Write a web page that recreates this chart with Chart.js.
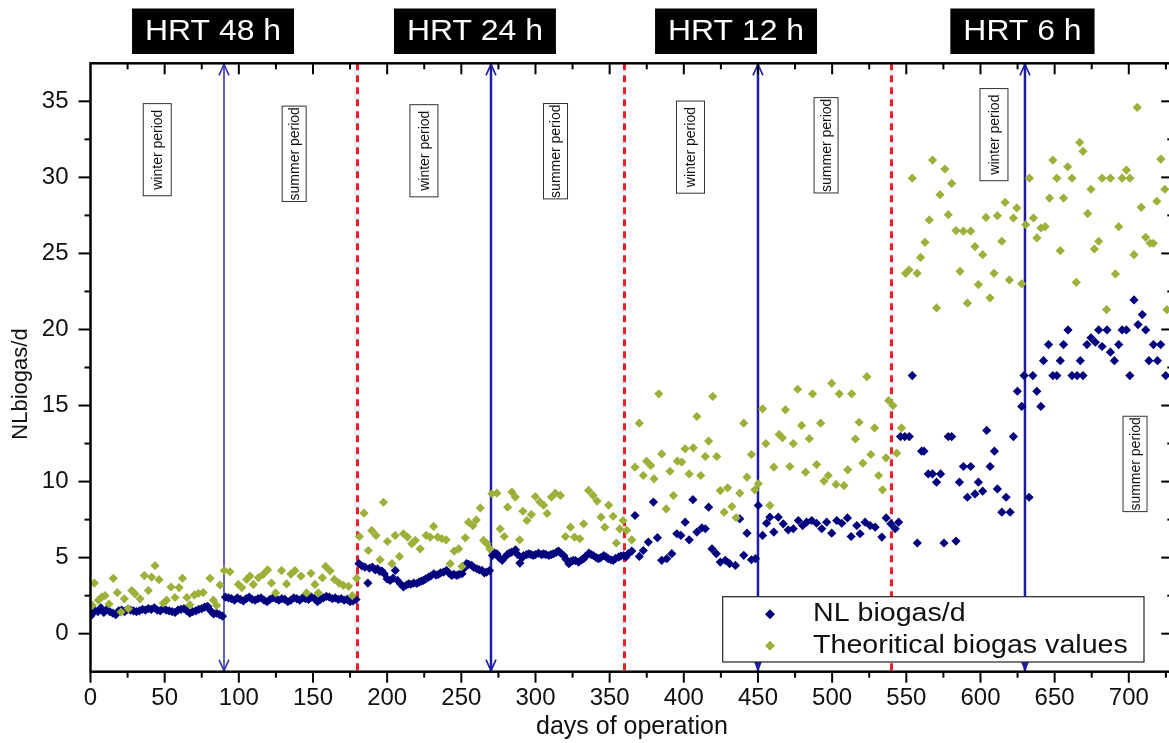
<!DOCTYPE html>
<html>
<head>
<meta charset="utf-8">
<script src="https://cdn.jsdelivr.net/npm/chart.js@4.4.0/dist/chart.umd.min.js"></script>
<style>
  html, body { margin: 0; padding: 0; background: #fff; overflow: hidden; }
  #wrap { position: relative; width: 1185px; height: 743px; }
</style>
</head>
<body>
<div id="wrap"><canvas id="chart-biogas" width="1185" height="743"></canvas></div>
<script>
// ── Données ───────────────────────────────────────────────────────────────────
// NL biogas/d (losanges bleu marine)
const nlDays = [
  0,1,3,5,7,9,11,13,15,17,19,21,23,25,27,29,31,33,35,37,39,41,43,45,47,49,51,53,55,57,59,61,63,65,67,69,71,73,75,77,79,81,83,85,87,89,
  91,93,95,97,99,101,103,105,107,109,111,113,115,117,119,121,123,125,127,129,131,133,135,137,139,141,143,145,147,149,151,153,155,157,159,161,163,165,167,169,171,173,175,177,179,
  181,183,185,187,188,190,192,193.5,195,196.5,198,200,202,204,205.5,207,209,211,213,214.5,216,218,220,221.5,223,224.5,226,228,229.5,231.5,233,234.5,236,238,240,241.5,243.5,245,247,248.5,250.5,252,253.5,255,257,258.5,260.5,262,264,265.5,267,269,
  271,272.5,274,275.5,277.5,279,281,282.5,284,286.5,288,289.5,291,292,294,295.5,297,298.5,300,302,304,305.5,307,309,310.5,312,314,315.5,317,319,320.5,322.5,324,325.5,327,329,331,332.5,334,336,337.5,339,341,342.5,344,346,347.5,349,351,352.5,354,356,357.5,359.5,
  361,362.6,364.9,367.1,370,372.7,376.1,379.5,382.2,385.1,388.5,391.9,395.3,398,400.9,403.6,406.1,408.8,412.2,414.5,416.7,419,421.9,424.6,428,430.9,434.8,437.7,440.4,442.6,445.6,448.3,450.2,
  453.1,455.8,458,460.7,463.7,467,470.4,473.8,477.2,480.1,482.8,486.2,489.5,493,496.3,499.7,503.1,506.5,510.3,512.8,516.6,518.8,522.2,525.6,529,533.5,536.4,539.6,542.5,544.8,
  546.1,549,552,554,557.4,560.3,561.9,564.8,567.7,570.4,573.1,575.4,578.3,580.6,583.5,585.8,588.5,591.2,593.4,596.3,598.6,601.5,604.2,606.5,609.4,611.4,614.4,617.3,620,622.2,624.9,627.8,629.4,
  632.8,635.3,638,640.7,642.5,645.9,648.8,651.5,653.8,656,659,661.7,665.1,667.3,669.1,671.8,674.5,677.5,679.7,682,685.3,687.6,690.3,693.2,695.5,698.4,700.7,703.5,706.2,709.1,711.4,713.6,716.6,719.3,721.5,724.9
];
const nlValues = [
  1.15,1.3,1.5,1.45,1.7,1.4,1.6,1.45,1.35,1.25,1.5,1.55,1.45,1.6,1.55,1.5,1.45,1.5,1.6,1.55,1.65,1.6,1.7,1.55,1.5,1.65,1.55,1.5,1.45,1.4,1.55,1.6,1.65,1.5,1.35,1.45,1.5,1.6,1.65,1.75,1.8,1.5,1.3,1.35,1.25,1.15,
  2.4,2.35,2.3,2.2,2.35,2.25,2.15,2.3,2.4,2.25,2.2,2.3,2.35,2.2,2.1,2.25,2.35,2.3,2.2,2.3,2.25,2.1,2.2,2.35,2.3,2.2,2.35,2.3,2.25,2.4,2.3,2.1,2.25,2.35,2.45,2.4,2.3,2.35,2.25,2.3,2.2,2.25,2.1,2.15,2.25,
  4.6,4.45,4.38,3.33,4.3,4.38,4.2,4.27,4.1,4.12,3.94,3.6,3.5,3.65,4.16,3.5,3.28,3.07,3.2,3.28,3.25,3.33,3.3,3.39,3.45,3.5,3.6,3.72,3.8,3.94,3.85,3.89,4.0,4.05,4.16,4.0,3.83,3.9,3.83,3.9,3.94,4.3,4.6,4.55,4.49,4.35,4.27,4.2,4.16,4.0,4.05,4.15,
  5.14,5.3,5.25,5.0,4.82,5.0,5.21,5.3,5.36,5.51,5.2,4.64,5.0,5.14,5.2,5.25,5.2,5.14,5.2,5.29,5.2,5.25,5.2,5.14,5.2,5.25,5.35,5.43,5.3,5.14,4.9,4.6,4.75,4.82,4.8,4.71,4.85,4.93,5.1,5.29,5.2,5.14,5.0,4.93,5.0,5.14,5.05,4.93,4.85,4.82,4.95,5.03,5.1,5.14,
  5.04,5.26,5.43,7.77,5.08,5.47,6.02,8.65,6.31,4.82,4.93,5.26,6.57,6.46,7.33,6.17,8.81,6.68,6.96,6.9,8.32,5.58,5.26,4.71,4.82,4.6,4.49,7.55,5.15,6.61,4.86,4.93,8.43,
  6.46,7.26,7.66,6.68,7.66,7.22,6.83,6.9,7.44,7.11,7.33,7.44,7.26,6.9,7.33,6.61,7.44,7.26,7.61,6.39,7.11,6.57,7.33,7.11,7.0,6.35,7.61,7.22,6.9,7.33,
  12.96,12.96,12.96,16.97,5.96,12.0,12.0,10.5,10.5,9.96,10.5,5.96,12.96,12.96,6.09,9.96,10.99,8.97,10.99,9.19,9.96,9.37,13.36,10.99,12.0,9.52,7.99,8.97,7.99,12.96,15.94,14.94,16.97,
  8.97,16.97,15.94,14.94,17.95,19.01,16.97,16.97,17.95,19.01,19.97,16.97,16.97,17.95,16.97,19.01,19.45,19.16,19.97,18.88,19.97,18.51,17.95,19.01,19.97,19.97,16.97,21.94,20.32,20.98,19.97,17.95,19.01,17.95,19.01,16.97
];

// Theoritical biogas values (losanges vert olive)
const thDays = [
  1.2,2.6,5.3,7.5,9.8,12.5,15.4,18.1,20.6,22.8,25.5,27.8,30,33.4,36.3,39,41.2,43.5,46.2,49,51.3,54.3,57,59.7,62,65,67,70,72.7,76,80.6,82.8,85,87.3,
  90.2,94,99.7,102,105.3,107.5,109.8,113.2,116.5,119.4,122,124.8,128.8,132.2,135.1,137.8,141.9,145.7,148.6,151.3,153.6,156.3,158.5,161.5,164.4,167.6,170.5,174,176.5,179.4,
  181.3,184.4,187.3,189.6,192.5,195.2,197.5,200.2,203.2,205.4,208.3,211,213.7,216.6,218.9,222.3,226.3,229,231.3,234,236.9,239.8,242.5,245.2,248.2,250.4,252.7,254.9,257.8,260.1,262.8,265,267.3,269.2,
  270.6,274,276.2,278.9,281.2,284.1,286.4,289.3,291.5,294.2,297.2,299.9,302.9,305.5,307.8,310.7,313.4,316.8,320.2,323.6,326.3,329.9,332.5,335.8,338.8,341.5,344.2,346.7,349.3,352.3,354.5,356.8,359,
  361.5,364.9,367.1,370,372.7,374.9,377.7,379.9,383.1,385.1,388.1,390.7,393,395.6,398.6,400.9,403.6,406.4,408.8,411.4,414.5,416.7,419.5,422.2,424.6,427.2,429.5,432.4,435.3,437.7,440.4,442.6,445.6,447.9,450.2,
  453.1,455.3,458,460.7,464.3,466.5,468.5,471.5,473.8,476.7,479.4,482.1,484.6,486.8,489.5,492.2,494.5,497.4,499.7,502.6,504.8,508,510.5,513.2,515.7,518.2,520.7,523.4,526.1,528.6,531.3,534,536.3,538.1,
  541,543.5,546.8,549.5,551.8,554,557.3,559.6,562.6,565.5,567.7,570.4,572.7,576,578.3,580.6,583.5,586.2,588.5,591.2,593.4,596.3,598.6,601.5,603.7,606.4,609.1,611.4,614.4,616.6,619.5,622.2,624.5,627.8,630.5,
  633,635.7,638,640.7,643.6,646.5,648.8,651.5,653.8,656,658.8,661.7,664.6,666.9,669.1,672.3,674.5,676.8,679.7,682,685,687.6,691,693.2,695.5,698.4,700.7,703.5,705.7,708.4,711.4,714.4,716.6,718.9,721.6,724.3,725.7
];
const thValues = [
  1.86,3.33,2.2,2.4,2.5,1.95,3.64,2.7,1.42,2.29,1.64,2.84,2.62,2.29,3.82,2.84,3.72,4.48,3.55,2.0,2.2,3.07,2.38,3.03,3.64,2.38,1.9,2.55,2.64,2.7,3.64,2.2,1.86,3.2,
  4.15,4.07,3.24,3.03,3.57,3.79,3.24,3.68,3.9,4.2,3.33,2.68,4.15,3.27,3.92,4.15,3.79,2.68,3.97,3.24,2.68,3.68,4.42,4.13,3.57,3.33,3.18,3.11,2.5,3.64,
  6.39,7.92,5.47,6.78,6.46,4.86,8.64,6.06,4.6,6.46,5.08,6.57,6.35,5.92,6.13,5.58,6.46,6.35,7.05,6.35,6.24,6.17,4.6,5.43,5.58,4.42,6.3,7.33,7.11,7.48,8.27,6.13,5.92,5.58,
  9.2,9.24,6.89,6.39,8.32,9.31,8.98,6.17,8.05,7.44,7.83,9.02,8.66,8.45,7.9,8.98,9.24,9.09,6.39,7.0,6.35,6.24,7.22,9.42,9.09,8.72,7.66,7.0,8.45,7.72,5.96,6.89,7.44,
  6.8,6.17,10.95,13.84,10.4,11.34,11.06,10.18,15.77,11.82,8.2,10.68,9.08,11.34,11.28,12.15,10.5,12.22,14.28,10.4,11.65,12.66,15.6,11.65,9.41,7.99,9.59,8.36,7.62,9.24,13.84,10.29,11.78,9.46,9.85,
  14.78,12.5,8.43,10.95,13.09,12.88,14.72,10.99,12.5,16.07,13.69,10.62,12.82,15.77,11.12,13.84,10.03,10.4,16.46,9.81,15.77,9.74,10.77,15.77,12.8,13.9,11.21,16.9,11.78,13.53,10.4,9.46,11.56,15.33,
  15.0,11.87,13.53,23.69,23.91,29.95,23.69,24.74,25.73,27.2,31.14,21.42,28.86,30.55,27.55,29.6,26.5,23.82,26.46,21.73,26.46,25.45,22.95,24.92,27.37,22.08,23.69,27.48,25.8,28.35,23.26,27.33,27.99,23.0,26.89,
  29.95,27.33,26.02,26.67,26.76,28.64,31.14,29.95,25.18,28.64,30.7,29.95,23.1,32.3,31.71,27.62,29.22,25.29,25.8,29.95,21.31,29.95,23.65,26.76,29.95,30.48,29.95,24.92,34.6,28.03,26.06,25.67,25.67,28.43,31.2,29.22,21.3
];

// ── Axes ──────────────────────────────────────────────────────────────────────
const xTickValues = [0, 50, 100, 150, 200, 250, 300, 350, 400, 450, 500, 550, 600, 650, 700];
const yTickValues = [0, 5, 10, 15, 20, 25, 30, 35];

// ── Annotations ──────────────────────────────────────────────────────────────
const hrtLabels  = ['HRT 48 h', 'HRT 24 h', 'HRT 12 h', 'HRT 6 h'];
const hrtCenters = [82.6, 259.2, 435.2, 628.3];
const arrowDays  = [90, 270, 450, 630];
const changeDays = [180, 360, 540];
const periodLabels = ['winter period', 'summer period', 'winter period', 'summer period',
                      'winter period', 'summer period', 'winter period', 'summer period'];
const periodDays   = [45, 137.3, 224.8, 313.5, 404.5, 495.9, 609.1, 704.2];
const periodLevels = [31.82, 31.55, 31.75, 31.72, 31.99, 32.11, 32.81, 11.16];

const FONT  = "'Liberation Sans', Arial, sans-serif";
const NAVY  = '#00007f';
const OLIVE = '#9bb13a';

function _line(ctx, x1, y1, x2, y2) {
  ctx.beginPath(); ctx.moveTo(x1, y1); ctx.lineTo(x2, y2); ctx.stroke();
}

// texte légèrement étiré horizontalement, comme sur la figure source
function _wideText(ctx, text, x, y, sx) {
  ctx.save();
  ctx.translate(x, y);
  ctx.scale(sx, 1);
  ctx.fillText(text, 0, 0);
  ctx.restore();
}

const decor = {
  id: 'decor',
  beforeDatasetsDraw(chart) {
    const { ctx, chartArea: a, scales: { x, y } } = chart;
    ctx.save();

    // changements de HRT : pointillés rouges
    ctx.strokeStyle = '#e8202a';
    ctx.lineWidth = 3;
    ctx.setLineDash([7, 5]);
    changeDays.forEach(d => {
      const px = x.getPixelForValue(d);
      _line(ctx, px, a.top, px, a.bottom);
    });
    ctx.setLineDash([]);

    // flèches bleues hiver / été
    arrowDays.forEach((d, i) => {
      const px = x.getPixelForValue(d);
      ctx.strokeStyle = i === 0 ? '#3838b4' : '#1c1ca6';
      ctx.fillStyle = ctx.strokeStyle;
      ctx.lineWidth = i === 0 ? 1.6 : 2.5;
      _line(ctx, px, a.top, px, a.bottom);
      ctx.lineWidth = 1.6;
      ctx.beginPath();
      ctx.moveTo(px - 5, a.top + 12); ctx.lineTo(px, a.top + 1); ctx.lineTo(px + 5, a.top + 12);
      ctx.stroke();
      if (i < 2) {
        ctx.beginPath();
        ctx.moveTo(px - 5, a.bottom - 12); ctx.lineTo(px, a.bottom - 1); ctx.lineTo(px + 5, a.bottom - 12);
        ctx.stroke();
      } else {
        ctx.beginPath();
        ctx.moveTo(px - 4, a.bottom - 10); ctx.lineTo(px, a.bottom); ctx.lineTo(px + 4, a.bottom - 10);
        ctx.closePath(); ctx.fill();
      }
    });

    // étiquettes "winter / summer period"
    ctx.font = `14px ${FONT}`;
    ctx.textAlign = 'center';
    ctx.textBaseline = 'middle';
    periodLabels.forEach((label, i) => {
      const px = x.getPixelForValue(periodDays[i]);
      const py = y.getPixelForValue(periodLevels[i]);
      const summer = label.startsWith('summer');
      const w = ctx.measureText(label).width + (summer ? 2 : 12);
      const h = summer ? 24 : 28;
      ctx.save();
      ctx.translate(px, py);
      ctx.rotate(-Math.PI / 2);
      ctx.fillStyle = '#fff';
      ctx.fillRect(-w / 2, -h / 2, w, h);
      ctx.strokeStyle = '#333';
      ctx.lineWidth = 1;
      ctx.strokeRect(-w / 2, -h / 2, w, h);
      ctx.fillStyle = '#111';
      ctx.fillText(label, 0, 1);
      ctx.restore();
    });
    ctx.restore();
  },

  afterDatasetsDraw(chart) {
    const { ctx, chartArea: a, scales: { x, y } } = chart;
    ctx.save();

    // cadre + graduations
    ctx.strokeStyle = '#000';
    ctx.lineWidth = 2.5;
    ctx.strokeRect(a.left, a.top, a.right - a.left, a.bottom - a.top);
    ctx.lineWidth = 2;
    for (let v = 25; v <= x.max; v += 25) {
      const px = x.getPixelForValue(v);
      const len = v % 50 === 0 ? 11 : 6;
      _line(ctx, px, a.bottom, px, a.bottom + len);
      _line(ctx, px, a.top, px, a.top + len);
    }
    _line(ctx, a.left, a.bottom, a.left, a.bottom + 11);
    for (let v = 0; v < y.max; v += 2.5) {
      const py = y.getPixelForValue(v);
      const len = v % 5 === 0 ? 12 : 6;
      _line(ctx, a.left - len, py, a.left, py);
      _line(ctx, a.right - len, py, a.right, py);
    }

    // légende
    const lx = a.right - 450.6, ly = a.bottom - 75, lw = 421.3, lh = 65.3;
    ctx.fillStyle = '#fff';
    ctx.fillRect(lx, ly, lw, lh);
    ctx.strokeStyle = '#222';
    ctx.lineWidth = 1.2;
    ctx.strokeRect(lx, ly, lw, lh);
    const items = [
      { label: 'NL biogas/d', color: NAVY, dy: 17.5 },
      { label: 'Theoritical biogas values', color: OLIVE, dy: 49 },
    ];
    ctx.font = `26px ${FONT}`;
    ctx.textAlign = 'left';
    ctx.textBaseline = 'middle';
    items.forEach(it => {
      ctx.fillStyle = it.color;
      Chart.helpers.drawPoint(ctx, { pointStyle: 'rectRot', radius: 5, borderWidth: 0, rotation: 0 }, lx + 47.3, ly + it.dy);
      ctx.fillStyle = '#111';
      _wideText(ctx, it.label, lx + 90.3, ly + it.dy, 1.1);
    });

    // bandeaux HRT
    ctx.font = `29px ${FONT}`;
    ctx.textAlign = 'center';
    hrtLabels.forEach((label, i) => {
      const cx = x.getPixelForValue(hrtCenters[i]);
      const w = ctx.measureText(label).width * 1.1 + 26;
      ctx.fillStyle = '#000';
      ctx.fillRect(cx - w / 2, 8.5, w, 45.5);
      ctx.fillStyle = '#fff';
      _wideText(ctx, label, cx, 31.5, 1.1);
    });

    // titre de l'axe Y
    ctx.save();
    ctx.translate(21, 384);
    ctx.rotate(-Math.PI / 2);
    ctx.font = `22px ${FONT}`;
    ctx.fillStyle = '#111';
    ctx.textAlign = 'center';
    ctx.fillText('NLbiogas/d', 0, 0);
    ctx.restore();

    ctx.restore();
  }
};

const pts = (days, vals) => days.map((d, i) => ({ x: d, y: vals[i] }));

new Chart(document.getElementById('chart-biogas'), {
  type: 'scatter',
  data: {
    datasets: [
      { label: 'Theoritical biogas values', data: pts(thDays, thValues),
        backgroundColor: OLIVE, borderColor: OLIVE, pointStyle: 'rectRot', pointRadius: 4.6, pointBorderWidth: 0 },
      { label: 'NL biogas/d', data: pts(nlDays, nlValues),
        backgroundColor: NAVY, borderColor: NAVY, pointStyle: 'rectRot', pointRadius: 4.6, pointBorderWidth: 0 },
    ],
  },
  options: {
    responsive: false,
    animation: false,
    events: [],
    layout: { padding: { top: 63.3, right: 11.7, left: 0, bottom: 0 } },
    plugins: { legend: { display: false }, tooltip: { enabled: false } },
    scales: {
      x: {
        type: 'linear', position: 'bottom', min: 0, max: 730,
        afterBuildTicks: s => { s.ticks = xTickValues.map(v => ({ value: v })); },
        afterFit: s => { s.height = 71.3; },
        grid: { display: false, drawTicks: false },
        border: { display: false },
        ticks: { padding: 12, color: '#111', autoSkip: false, maxRotation: 0, font: { family: FONT, size: 24 } },
        title: { display: true, text: 'days of operation', color: '#111',
                 font: { family: FONT, size: 25 }, padding: { top: 0, bottom: 1 } },
      },
      y: {
        type: 'linear', position: 'left', min: -2.5, max: 37.5,
        afterBuildTicks: s => { s.ticks = yTickValues.map(v => ({ value: v })); },
        afterFit: s => { s.width = 90.5; },
        grid: { display: false, drawTicks: false },
        border: { display: false },
        ticks: { padding: 22, color: '#111', font: { family: FONT, size: 24 } },
      },
    },
  },
  plugins: [decor],
});
</script>
</body>
</html>
